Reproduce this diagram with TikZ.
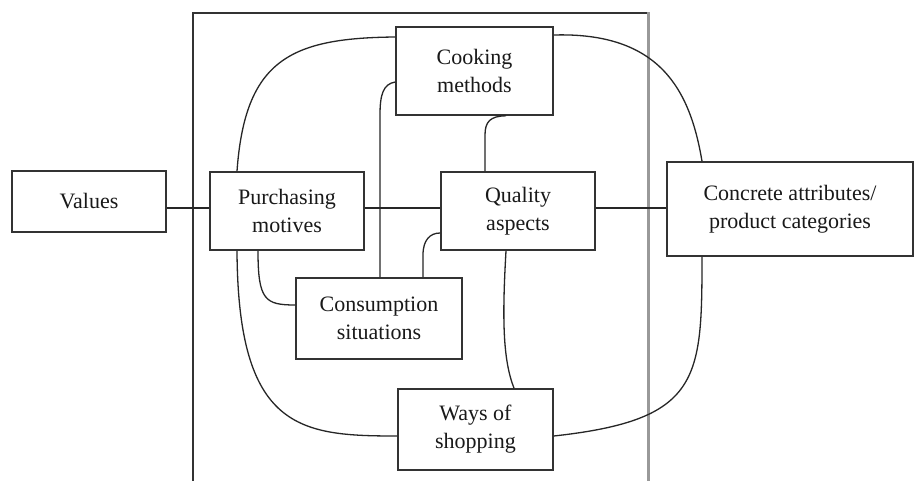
\documentclass[tikz,border=0pt]{standalone}
\usepackage{fontspec}
\setmainfont{Liberation Serif}
\begin{document}
\begin{tikzpicture}[x=1pt,y=-1pt,
  box/.style={draw=black!80, line width=1.6pt, fill=white, align=center, inner sep=0pt,
    font=\fontsize{22}{28}\selectfont, text=black!90},
  link/.style={draw=black!85, line width=1.3pt},
  frameline/.style={draw=black!80, line width=1.6pt}]
\useasboundingbox (0,0) rectangle (916,481);
\fill[white] (0,0) rectangle (916,481);
% frame
\draw[frameline] (193,481) -- (193,13) -- (648,13);
\draw[draw=black!40, line width=3pt] (648,12) -- (648,481);
% nodes
\node[box, minimum width=154pt, minimum height=61pt] (val) at (89,201.5) {Values};
\node[box, minimum width=154pt, minimum height=78pt] (pm) at (287,211) {Purchasing\\motives};
\node[box, minimum width=154pt, minimum height=78pt] (qa) at (518,211) {Quality\\aspects};
\node[box, minimum width=157pt, minimum height=88pt] (cm) at (474.5,71) {Cooking\\methods};
\node[box, minimum width=166pt, minimum height=81pt] (cs) at (379,318.5) {Consumption\\situations};
\node[box, minimum width=155pt, minimum height=81pt] (ws) at (475.5,429.5) {Ways of\\shopping};
\node[box, minimum width=246pt, minimum height=94pt] (ca) at (790,209) {Concrete attributes/\\product categories};
% connectors
\draw[link] (val.east |- 0,208) -- (pm.west |- 0,208);
\draw[link] (pm.east |- 0,208) -- (qa.west |- 0,208);
\draw[link] (qa.east |- 0,208) -- (ca.west |- 0,208);
\draw[link] (pm.north -| 237,0) .. controls (245,60) and (290,38) .. (cm.west |- 0,37);
\draw[link] (cm.east |- 0,35) .. controls (660,32) and (690,90) .. (ca.north -| 702,0);
\draw[link] (ws.east |- 0,436) .. controls (700,420) and (702,380) .. (ca.south -| 702,0);
\draw[link] (pm.south -| 237,0) .. controls (238,430) and (300,436) .. (ws.west |- 0,436);
\draw[link] (pm.south -| 258,0) .. controls (258,300) and (265,305) .. (cs.west |- 0,305);
\draw[link] (cm.west |- 0,82) .. controls (383,84) and (380,95) .. (380,115) -- (cs.north -| 380,0);
\draw[link] (cm.south -| 506,0) .. controls (490,116) and (485,122) .. (485,135) -- (qa.north -| 485,0);
\draw[link] (cs.north -| 423,0) -- (423,255) .. controls (423,240) and (430,233) .. (qa.west |- 0,233);
\draw[link] (qa.south -| 506,0) .. controls (502,320) and (503,360) .. (ws.north -| 514,0);
\end{tikzpicture}
\end{document}
